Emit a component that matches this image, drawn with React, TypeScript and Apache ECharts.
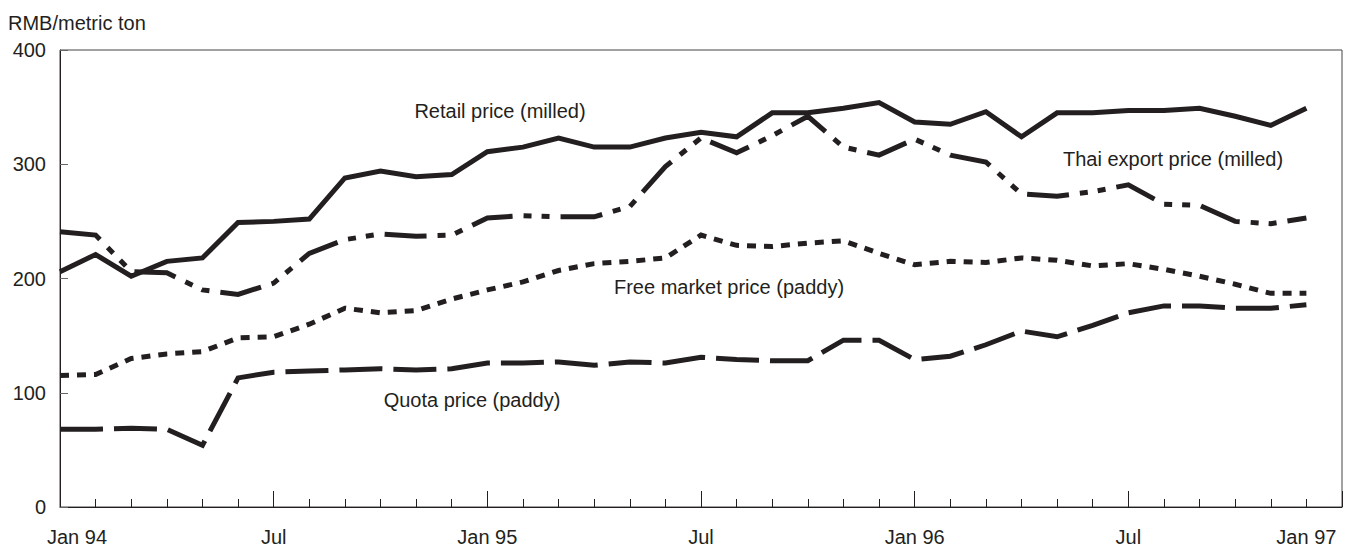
import React, { useEffect, useRef } from "react";
import * as echarts from "echarts";

// Months since Jan 1994 (index 0 .. 35)
const RETAIL = [206, 221, 202, 215, 218, 249, 250, 252, 288, 294, 289, 291, 311, 315, 323, 315, 315, 323, 328, 324, 345, 345, 349, 354, 337, 335, 346, 324, 345, 345, 347, 347, 349, 342, 334, 349];
const THAI = [241, 238, 206, 205, 190, 186, 196, 222, 234, 239, 237, 238, 253, 255, 254, 254, 263, 298, 323, 310, 325, 342, 315, 308, 322, 308, 302, 274, 272, 276, 282, 265, 264, 250, 248, 253];
const FREE = [115, 116, 130, 134, 136, 148, 149, 160, 174, 170, 172, 182, 190, 197, 207, 213, 215, 218, 238, 229, 228, 231, 233, 222, 212, 215, 214, 218, 216, 211, 213, 208, 202, 195, 187, 187];
const QUOTA = [68, 68, 69, 68, 54, 113, 118, 119, 120, 121, 120, 121, 126, 126, 127, 124, 127, 126, 131, 129, 128, 128, 146, 146, 129, 132, 142, 154, 149, 159, 170, 176, 176, 174, 174, 177];

const X_LABEL_TEXTS = ["Jan 94", "Jul", "Jan 95", "Jul", "Jan 96", "Jul", "Jan 97"];
const X_LABEL_MONTHS = [0, 6, 12, 18, 24, 30, 35];

const SERIES_NAMES = ["Retail price (milled)", "Thai export price (milled)", "Free market price (paddy)", "Quota price (paddy)"];

const FONT = '"Liberation Sans", Arial, Helvetica, sans-serif';
const INK = "#231f20";

const toPairs = (arr: number[]) => arr.map((v, i) => [i, v]);

export default function App() {
  const ref = useRef<HTMLDivElement>(null);
  useEffect(() => {
    document.body.style.margin = "0";
    const chart = echarts.init(ref.current!, null, { renderer: "svg" });
    const mkLine = (name: string, data: number[], type: any) => ({
      name,
      type: "line",
      data: toPairs(data),
      showSymbol: false,
      symbol: "none",
      lineStyle: { color: INK, width: 5, type, join: "miter" },
      emphasis: { disabled: true },
    });
    const annot = (text: string, x: number, y: number) => ({
      type: "text",
      x,
      y,
      style: {
        text,
        fill: INK,
        fontSize: 20,
        fontFamily: FONT,
        align: "center",
        verticalAlign: "middle",
      },
    });
    chart.setOption({
      animation: false,
      backgroundColor: "#ffffff",
      title: {
        text: "RMB/metric ton",
        left: 8,
        top: 13,
        padding: 0,
        textStyle: { fontSize: 20, fontWeight: "normal", fontFamily: FONT, color: INK },
      },
      grid: {
        left: 60,
        right: 5,
        top: 50,
        bottom: 41,
        show: true,
        borderColor: "#444",
        borderWidth: 1,
        outerBoundsMode: "none",
      },
      xAxis: {
        type: "value",
        min: 0,
        max: 36,
        interval: 6,
        axisLine: { show: true, lineStyle: { color: INK, width: 1 } },
        axisTick: { show: true, inside: true, length: 16, lineStyle: { color: INK, width: 1 } },
        minorTick: { show: true, splitNumber: 6, length: 8, lineStyle: { color: INK, width: 1 } },
        splitLine: { show: false },
        minorSplitLine: { show: false },
        axisLabel: {
          customValues: X_LABEL_MONTHS,
          margin: 20,
          fontSize: 20,
          fontFamily: FONT,
          color: INK,
          formatter: (v: number) => {
            const idx = X_LABEL_MONTHS.indexOf(Math.round(v));
            if (idx < 0) return "";
            const t = X_LABEL_TEXTS[idx];
            return idx === 0 ? "{first|" + t + "}" : t;
          },
          rich: {
            first: { padding: [0, 0, 0, 34], fontSize: 20, fontFamily: FONT, color: INK },
          },
        },
      },
      yAxis: {
        type: "value",
        min: 0,
        max: 400,
        interval: 100,
        axisLine: { show: true, lineStyle: { color: INK, width: 1 } },
        axisTick: { show: true, inside: true, length: 8, lineStyle: { color: "#666", width: 1 } },
        splitLine: { show: false },
        axisLabel: { margin: 14, fontSize: 20, fontFamily: FONT, color: INK },
      },
      series: [
        mkLine(SERIES_NAMES[0], RETAIL, "solid"),
        mkLine(SERIES_NAMES[1], THAI, [42, 11, 8, 10, 8, 11]),
        mkLine(SERIES_NAMES[2], FREE, [9, 8]),
        mkLine(SERIES_NAMES[3], QUOTA, [43, 11]),
      ],
      graphic: [
        annot(SERIES_NAMES[0], 500, 111),
        annot(SERIES_NAMES[1], 1173, 159),
        annot(SERIES_NAMES[2], 729, 287),
        annot(SERIES_NAMES[3], 472, 400),
      ],
    });
    return () => chart.dispose();
  }, []);
  return <div ref={ref} style={{ width: 1347, height: 548 }} />;
}
